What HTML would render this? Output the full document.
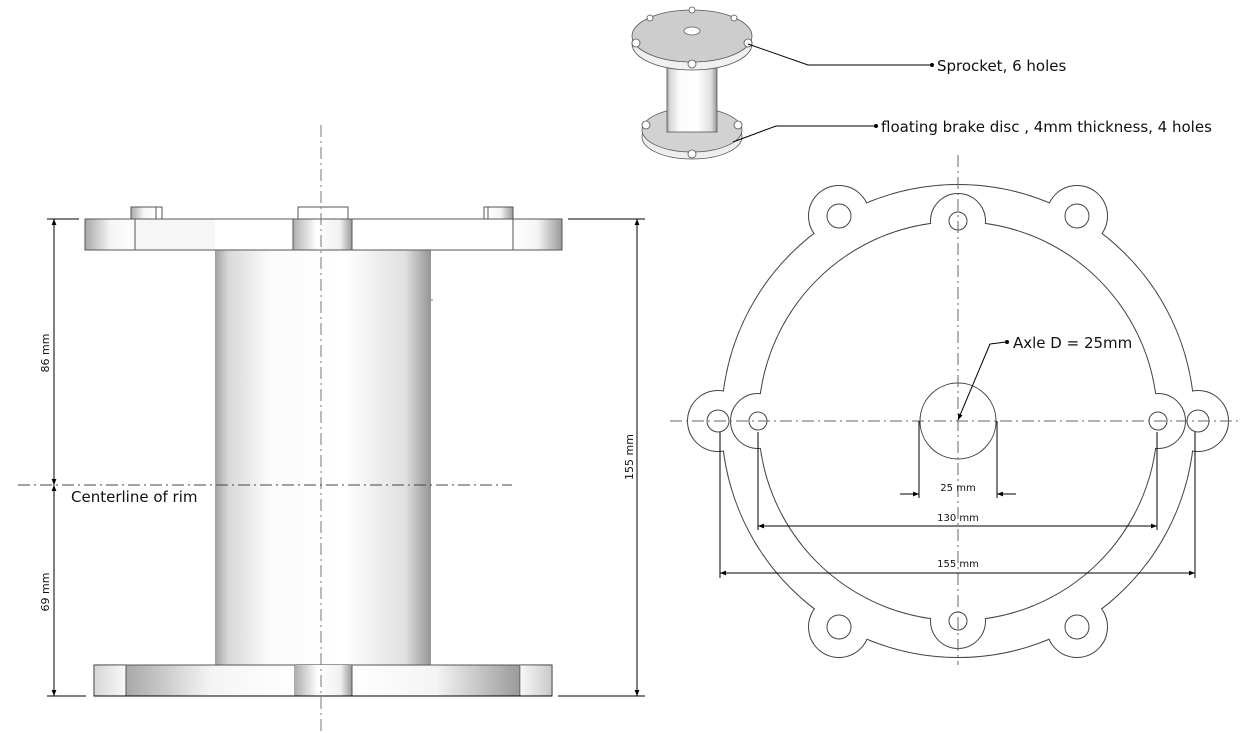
<!DOCTYPE html>
<html><head><meta charset="utf-8"><style>
html,body{margin:0;padding:0;background:#fff;}
svg{display:block;}
text{font-family:"DejaVu Sans","Liberation Sans",sans-serif;fill:#111;}
</style></head><body>
<svg width="1248" height="733" viewBox="0 0 1248 733" xmlns="http://www.w3.org/2000/svg">
<defs>
<linearGradient id="cyl" x1="0" x2="1" y1="0" y2="0">
<stop offset="0" stop-color="#a0a0a0"/><stop offset="0.06" stop-color="#d8d8d8"/><stop offset="0.25" stop-color="#fbfbfb"/><stop offset="0.6" stop-color="#ffffff"/><stop offset="0.88" stop-color="#e0e0e0"/><stop offset="1" stop-color="#959595"/>
</linearGradient>
<linearGradient id="gL" x1="0" x2="1"><stop offset="0" stop-color="#a8a8a8"/><stop offset="0.5" stop-color="#f4f4f4"/><stop offset="1" stop-color="#fff"/></linearGradient>
<linearGradient id="gR" x1="0" x2="1"><stop offset="0" stop-color="#fff"/><stop offset="0.5" stop-color="#f4f4f4"/><stop offset="1" stop-color="#9a9a9a"/></linearGradient>
<linearGradient id="gHub" x1="0" x2="1"><stop offset="0" stop-color="#b0b0b0"/><stop offset="0.4" stop-color="#fff"/><stop offset="0.8" stop-color="#f0f0f0"/><stop offset="1" stop-color="#999"/></linearGradient>
<linearGradient id="gEnd" x1="0" x2="1"><stop offset="0" stop-color="#888"/><stop offset="1" stop-color="#eee"/></linearGradient>
<linearGradient id="gEndR" x1="0" x2="1"><stop offset="0" stop-color="#eee"/><stop offset="1" stop-color="#777"/></linearGradient>
<marker id="ar" viewBox="0 0 10 10" refX="10" refY="5" markerWidth="10" markerHeight="6" orient="auto-start-reverse" markerUnits="userSpaceOnUse"><path d="M0,1 L10,5 L0,9 z" fill="#000"/></marker>
<mask id="mA"><rect width="1248" height="733" fill="#fff"/>
<g fill="#000"><circle cx="958" cy="421" r="236"/>
<circle cx="718" cy="421" r="30"/><circle cx="1198" cy="421" r="30"/>
<circle cx="839" cy="216" r="30"/><circle cx="1077" cy="216" r="30"/>
<circle cx="839" cy="627" r="30"/><circle cx="1077" cy="627" r="30"/></g></mask>
<mask id="mB"><rect width="1248" height="733" fill="#fff"/>
<g fill="#000"><circle cx="958" cy="421" r="199"/>
<circle cx="958" cy="221" r="27"/><circle cx="958" cy="621" r="27"/>
<circle cx="758" cy="421" r="27"/><circle cx="1158" cy="421" r="27"/></g></mask>
</defs>

<!-- ===== 3D thumbnail ===== -->
<g stroke="#555" stroke-width="0.8">
<ellipse cx="692" cy="137" rx="50" ry="22" fill="#eee"/>
<ellipse cx="692" cy="130" rx="50" ry="22" fill="#d2d2d2"/>
<rect x="667" y="58" width="50" height="74" fill="url(#cyl)"/>
<ellipse cx="692" cy="44" rx="60" ry="26" fill="#f0f0f0"/>
<ellipse cx="692" cy="36" rx="60" ry="26" fill="#cdcdcd"/>
<ellipse cx="692" cy="31" rx="8" ry="4" fill="#fff"/>
<g fill="#fff"><circle cx="636" cy="43" r="4"/><circle cx="748" cy="43" r="4"/><circle cx="692" cy="64" r="4"/><circle cx="692" cy="10" r="3"/><circle cx="650" cy="18" r="3"/><circle cx="734" cy="18" r="3"/>
<circle cx="646" cy="125" r="4"/><circle cx="738" cy="125" r="4"/><circle cx="692" cy="154" r="4"/></g>
</g>
<!-- leaders -->
<g stroke="#000" stroke-width="1" fill="none">
<polyline points="748,44 808,65 931,65"/>
<polyline points="733,142 776,126 875,126"/>
</g>
<circle cx="932" cy="65" r="2" fill="#000"/><circle cx="876" cy="126" r="2" fill="#000"/>
<text x="937" y="71" font-size="15">Sprocket, 6 holes</text>
<text x="881" y="132" font-size="15">floating brake disc , 4mm thickness, 4 holes</text>

<!-- ===== Left side view ===== -->
<rect x="215" y="250" width="216" height="415" fill="url(#cyl)"/>
<line x1="431" y1="300" x2="433" y2="300" stroke="#777"/>
<rect x="131" y="207" width="31" height="12" fill="#fff" stroke="#555"/>
<rect x="131" y="207" width="25" height="12" fill="url(#gL)" stroke="#555"/>
<rect x="298" y="207" width="50" height="12" fill="#fff" stroke="#555"/>
<rect x="484" y="207" width="29" height="12" fill="#fff" stroke="#555"/>
<rect x="488" y="207" width="25" height="12" fill="url(#gR)" stroke="#555"/>
<rect x="85" y="219" width="477" height="31" fill="#fff" stroke="#555"/>
<rect x="85" y="219" width="50" height="31" fill="url(#gL)"/>
<rect x="513" y="219" width="49" height="31" fill="url(#gR)"/>
<rect x="135" y="219" width="80" height="31" fill="#f6f6f6"/>
<rect x="293" y="219" width="59" height="31" fill="url(#gHub)" stroke="#555"/>
<line x1="135" y1="219" x2="135" y2="250" stroke="#555"/>
<line x1="513" y1="219" x2="513" y2="250" stroke="#555"/>
<rect x="85" y="219" width="477" height="31" fill="none" stroke="#555"/>
<rect x="94" y="665" width="458" height="31" fill="#fff" stroke="#333"/>
<rect x="94" y="665" width="32" height="31" fill="url(#gEnd)" opacity="0.35"/>
<rect x="126" y="665" width="169" height="31" fill="url(#gL)" stroke="#555"/>
<rect x="295" y="665" width="57" height="31" fill="url(#gHub)"/>
<rect x="352" y="665" width="168" height="31" fill="url(#gR)" stroke="#555"/>
<rect x="520" y="665" width="32" height="31" fill="url(#gEndR)" opacity="0.4"/>
<line x1="94" y1="696" x2="552" y2="696" stroke="#000"/>
<line x1="321" y1="125" x2="321" y2="732" stroke="#777" stroke-width="1" stroke-dasharray="12,4,2,4"/>
<line x1="18" y1="485" x2="512" y2="485" stroke="#444" stroke-width="1" stroke-dasharray="12,4,2,4"/>
<text x="71" y="502" font-size="15">Centerline of rim</text>
<g stroke="#000" stroke-width="1">
<line x1="47" y1="219" x2="79" y2="219"/>
<line x1="47" y1="696" x2="86" y2="696"/>
<line x1="54" y1="219" x2="54" y2="485" marker-start="url(#ar)" marker-end="url(#ar)"/>
<line x1="54" y1="485" x2="54" y2="696" marker-start="url(#ar)" marker-end="url(#ar)"/>
<line x1="568" y1="219" x2="645" y2="219"/>
<line x1="558" y1="696" x2="645" y2="696"/>
<line x1="637" y1="219" x2="637" y2="696" marker-start="url(#ar)" marker-end="url(#ar)"/>
</g>
<text font-size="11" transform="translate(49,353) rotate(-90)" text-anchor="middle">86 mm</text>
<text font-size="11" transform="translate(49,592) rotate(-90)" text-anchor="middle">69 mm</text>
<text font-size="11" transform="translate(633,457) rotate(-90)" text-anchor="middle">155 mm</text>

<!-- ===== Right front view ===== -->
<g fill="none" stroke="#444" stroke-width="2" mask="url(#mA)">
<circle cx="958" cy="421" r="236"/>
<circle cx="718" cy="421" r="30"/><circle cx="1198" cy="421" r="30"/>
<circle cx="839" cy="216" r="30"/><circle cx="1077" cy="216" r="30"/>
<circle cx="839" cy="627" r="30"/><circle cx="1077" cy="627" r="30"/>
</g>
<g fill="none" stroke="#444" stroke-width="2" mask="url(#mB)">
<circle cx="958" cy="421" r="199"/>
<circle cx="958" cy="221" r="27"/><circle cx="958" cy="621" r="27"/>
<circle cx="758" cy="421" r="27"/><circle cx="1158" cy="421" r="27"/>
</g>
<g fill="none" stroke="#444" stroke-width="1">
<circle cx="718" cy="421" r="11"/><circle cx="1198" cy="421" r="11"/>
<circle cx="839" cy="216" r="12"/><circle cx="1077" cy="216" r="12"/>
<circle cx="839" cy="627" r="12"/><circle cx="1077" cy="627" r="12"/>
<circle cx="958" cy="221" r="9"/><circle cx="958" cy="621" r="9"/>
<circle cx="758" cy="421" r="9"/><circle cx="1158" cy="421" r="9"/>
<circle cx="958" cy="421" r="38"/>
</g>
<line x1="958" y1="155" x2="958" y2="665" stroke="#666" stroke-dasharray="12,4,2,4"/>
<line x1="670" y1="421" x2="1240" y2="421" stroke="#666" stroke-dasharray="12,4,2,4"/>
<g stroke="#000" stroke-width="1">
<line x1="919" y1="421" x2="919" y2="498"/>
<line x1="997" y1="421" x2="997" y2="498"/>
<line x1="900" y1="494" x2="919" y2="494" marker-end="url(#ar)"/>
<line x1="1016" y1="494" x2="997" y2="494" marker-end="url(#ar)"/>
<line x1="758" y1="432" x2="758" y2="530"/>
<line x1="1157" y1="432" x2="1157" y2="530"/>
<line x1="758" y1="526" x2="1157" y2="526" marker-start="url(#ar)" marker-end="url(#ar)"/>
<line x1="720" y1="432" x2="720" y2="578"/>
<line x1="1195" y1="432" x2="1195" y2="578"/>
<line x1="720" y1="573" x2="1195" y2="573" marker-start="url(#ar)" marker-end="url(#ar)"/>
<polyline points="990,344 1006,342" fill="none"/>
<line x1="990" y1="344" x2="958" y2="420" marker-end="url(#ar)"/>
</g>
<circle cx="1007" cy="342" r="2" fill="#000"/>
<text x="1013" y="348" font-size="15">Axle D = 25mm</text>
<text x="958" y="491" font-size="10" text-anchor="middle">25 mm</text>
<text x="958" y="521" font-size="10" text-anchor="middle">130 mm</text>
<text x="958" y="567" font-size="10" text-anchor="middle">155 mm</text>
</svg>
</body></html>
